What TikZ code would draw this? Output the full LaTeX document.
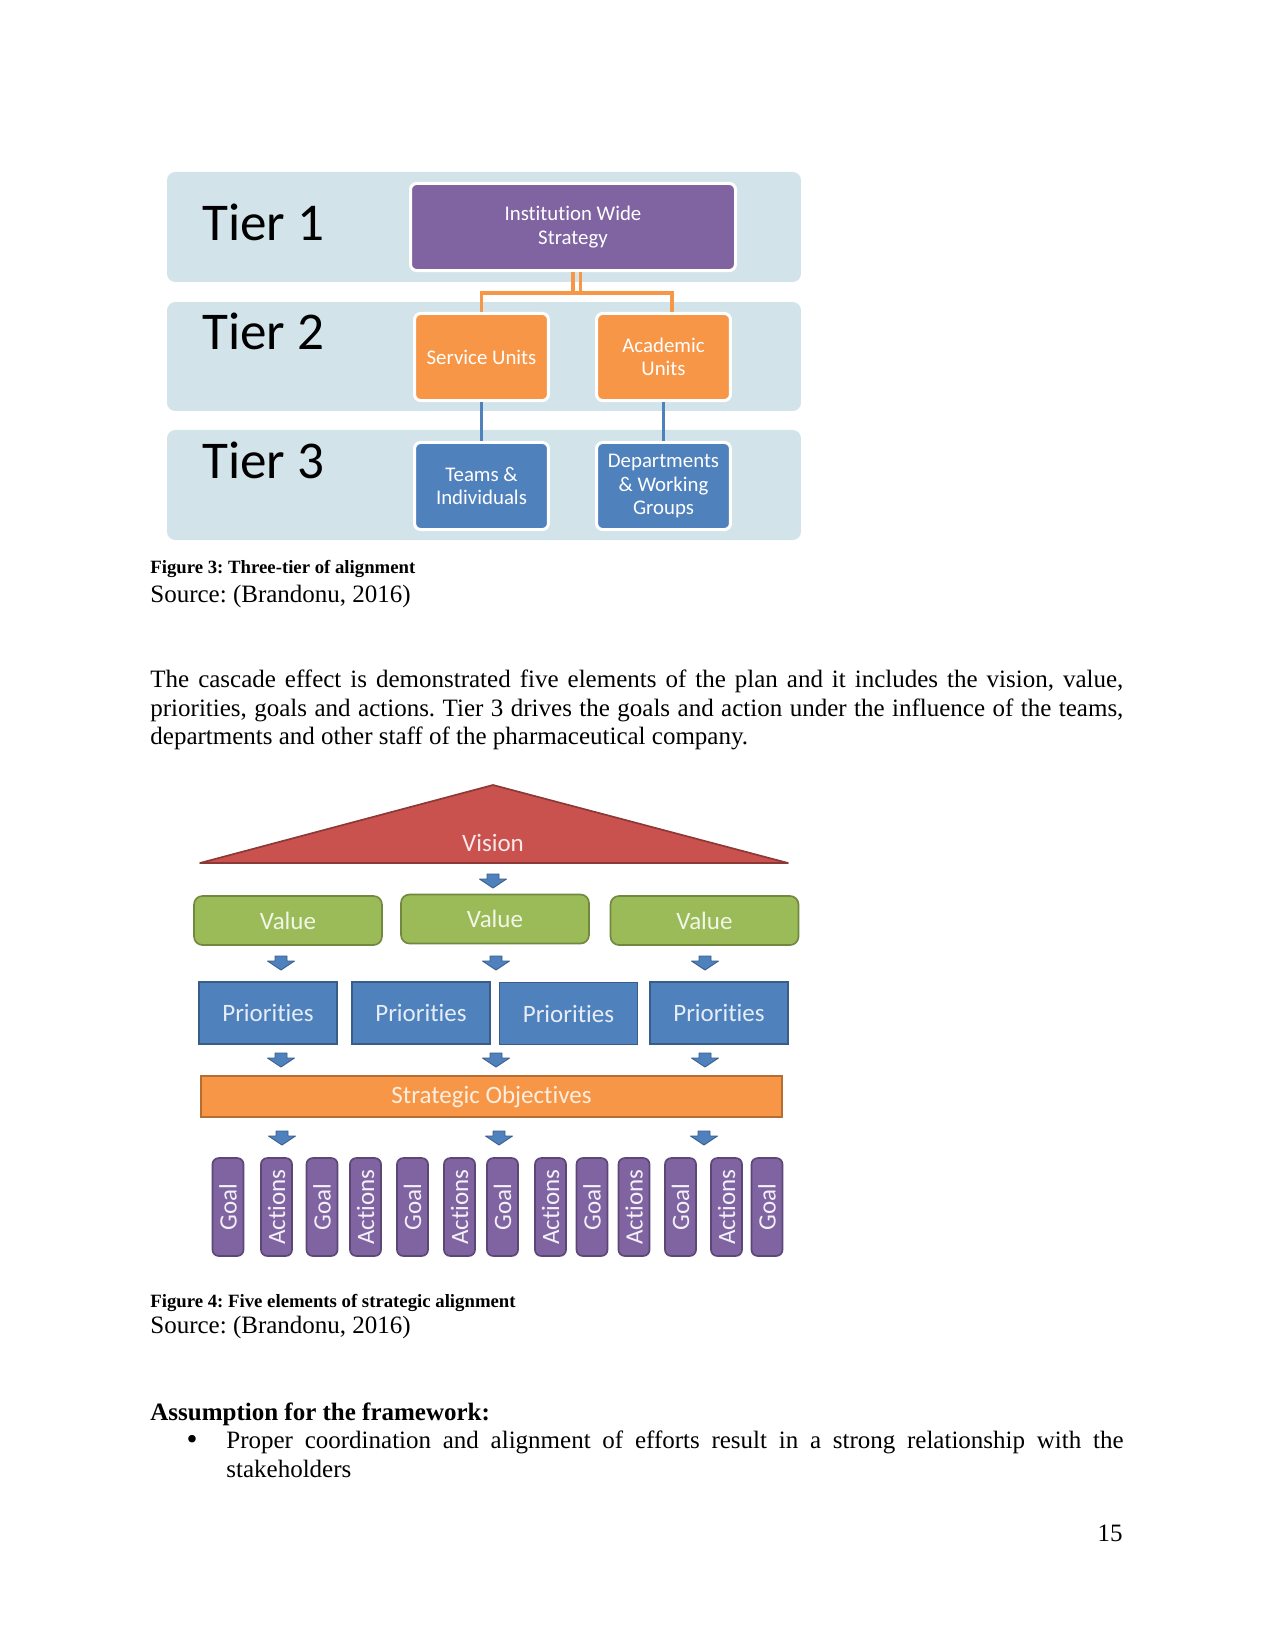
\documentclass[tikz,border=0pt]{standalone}
\usepackage{fontspec}
\setmainfont{Liberation Serif}
\newfontfamily\carlito[Ligatures={NoCommon,NoContextual,NoRequired}]{Carlito}
\usepackage{graphicx}
\frenchspacing
\definecolor{bandcol}{RGB}{210,227,234}
\definecolor{tpurple}{HTML}{8064A2}
\definecolor{torange}{HTML}{F79646}
\definecolor{tblue}{HTML}{4F81BD}
\definecolor{vred}{HTML}{C9524F}
\definecolor{vredd}{HTML}{8C3836}
\definecolor{vgreen}{HTML}{9BBB59}
\definecolor{vgreend}{HTML}{71893F}
\definecolor{pblued}{HTML}{385D8A}
\definecolor{oranged}{HTML}{B66D31}
\definecolor{purpled}{HTML}{5C4776}
\definecolor{vistext}{HTML}{F8E8E7}
\definecolor{valtext}{HTML}{F2F6E8}
\definecolor{pritext}{HTML}{E6EDF6}
\definecolor{sotext}{HTML}{FDEEE2}
\definecolor{coltext}{HTML}{F3F0F7}
\begin{document}
\begin{tikzpicture}[x=0.48pt,y=-0.48pt,
  bandbox/.style={fill=bandcol, rounded corners=4pt, inner sep=0pt, minimum width=304.3pt},
  tbox/.style={draw=white, line width=1.44pt, rounded corners=3pt, inner sep=0pt,
    minimum width=64.3pt, minimum height=41.8pt, text=white, align=center,
    font=\carlito\fontsize{10}{11.2}\selectfont},
  tierlbl/.style={font=\carlito\fontsize{25.5}{30}\selectfont, anchor=base west, inner sep=0pt},
  oline/.style={draw=torange, line width=1.5pt},
  bline/.style={draw=tblue, line width=1.8pt},
  valbox/.style={fill=vgreen, draw=vgreend, line width=0.8pt, rounded corners=4pt, inner sep=0pt,
    minimum width=90.2pt, minimum height=23.5pt, text=valtext, font=\carlito\fontsize{12}{14}\selectfont},
  pribox/.style={fill=tblue, draw=pblued, line width=0.8pt, inner sep=0pt,
    minimum width=66.2pt, minimum height=29.8pt, text=pritext, font=\carlito\fontsize{12}{14}\selectfont},
  sobox/.style={fill=torange, draw=oranged, line width=0.8pt, inner sep=0pt,
    minimum width=278.9pt, minimum height=19.7pt, text=sotext, font=\carlito\fontsize{12}{14}\selectfont},
  colbox/.style={fill=tpurple, draw=purpled, line width=0.8pt, rounded corners=3pt, inner sep=0pt,
    minimum width=14.9pt, minimum height=47pt, text=coltext, font=\carlito\fontsize{12}{14}\selectfont},
  bodytxt/.style={anchor=base west, inner sep=0pt, font=\fontsize{12}{13.8}\selectfont},
  captxt/.style={anchor=base west, inner sep=0pt, font=\bfseries\fontsize{9}{10.35}\selectfont},
  blkarrow/.pic={\draw[fill=tblue, draw=pblued, line width=0.4pt, line join=round]
    (-6,0) -- (6,0) -- (6,5) -- (13.5,5) -- (0,14) -- (-13.5,5) -- (-6,5) -- cycle;}
]
\useasboundingbox[fill=white] (0,0) rectangle (1275,1650);

% ---------- Figure 3 ----------
\node[bandbox, minimum height=52.8pt] (band1) at (484,227) {};
\node[bandbox, minimum height=52.3pt] (band2) at (484,356.5) {};
\node[bandbox, minimum height=52.8pt] (band3) at (484,485) {};

\node[tierlbl] (t1) at (202,241) {Tier 1};
\node[tierlbl] (t2) at (202,350) {Tier 2};
\node[tierlbl] (t3) at (202,478) {Tier 3};

\node[tbox, fill=tpurple, minimum width=156pt] (inst) at (573,227) {Institution Wide\\Strategy};
\node[tbox, fill=torange] (serv) at (481.5,357) {Service Units};
\node[tbox, fill=torange] (acad) at (663.5,357) {Academic\\Units};
\node[tbox, fill=tblue] (teams) at (481.5,486) {Teams \&\\Individuals};
\node[tbox, fill=tblue] (dept) at (663.5,486) {Departments\\\& Working\\Groups};

\coordinate (bus) at (576,293);
\coordinate (instR) at ([xshift=3.6pt]inst.south);
\coordinate (acadR) at ([xshift=4.1pt]acad.north);
\draw[oline] (inst.south) -- (inst.south |- bus);
\draw[oline] (instR) -- (instR |- bus);
\draw[oline] (serv.north) -- (serv.north |- bus) -- (acadR |- bus) -- (acadR);
\draw[bline] (serv) -- (teams);
\draw[bline] (acad) -- (dept);

\node[captxt] (cap3) at (150,573) {Figure 3: Three-tier of alignment};
\node[bodytxt] (src3) at (150,602) {Source: (Brandonu, 2016)};

\node[bodytxt] (p1) at (150,687) {\makebox[467pt][s]{The cascade effect is demonstrated five elements of the plan and it includes the vision, value,}};
\node[bodytxt] (p2) at (150,716) {\makebox[467pt][s]{priorities, goals and actions. Tier 3 drives the goals and action under the influence of the teams,}};
\node[bodytxt] (p3) at (150,744) {departments and other staff of the pharmaceutical company.};

% ---------- Figure 4 ----------
\draw[fill=vred, draw=vredd, line width=0.8pt, line join=round] (200,863) -- (493,785) -- (788,863) -- cycle;
\node[anchor=base, inner sep=0pt, text=vistext, font=\carlito\fontsize{12}{14}\selectfont] (vision) at (493,851) {Vision};
\pic at (493,874) {blkarrow};

\node[valbox] (val1) at (288,920.5) {Value};
\node[valbox] (val2) at (495,919) {Value};
\node[valbox] (val3) at (704.5,920.5) {Value};
\pic at (281,956) {blkarrow};
\pic at (496,956) {blkarrow};
\pic at (705,956) {blkarrow};

\node[pribox] (pri1) at (268,1013) {Priorities};
\node[pribox] (pri2) at (421,1013) {Priorities};
\node[pribox] (pri3) at (568.5,1013.5) {Priorities};
\node[pribox] (pri4) at (719,1013) {Priorities};
\pic at (281,1053) {blkarrow};
\pic at (496,1053) {blkarrow};
\pic at (705,1053) {blkarrow};

\node[sobox] (so) at (491.5,1096.5) {Strategic Objectives};
\pic at (282,1131) {blkarrow};
\pic at (499,1131) {blkarrow};
\pic at (704,1131) {blkarrow};

\foreach \cx/\lab [count=\i] in {228/Goal, 276.5/Actions, 322/Goal, 365.5/Actions, 412.5/Goal, 459.5/Actions, 502.5/Goal, 550.5/Actions, 592/Goal, 634/Actions, 680.5/Goal, 726.5/Actions, 767/Goal}
  \node[colbox] (col\i) at (\cx,1207) {\rotatebox{90}{\lab}};

\node[captxt] (cap4) at (150,1307) {Figure 4: Five elements of strategic alignment};
\node[bodytxt] (src4) at (150,1333) {Source: (Brandonu, 2016)};

\node[bodytxt, font=\bfseries\fontsize{12}{13.8}\selectfont] (assume) at (150,1420) {Assumption for the framework:};
\node[anchor=base, inner sep=0pt, font=\fontsize{15}{16}\selectfont] (bul) at (192,1449) {•};
\node[bodytxt] (b1) at (226,1448) {\makebox[430.6pt][s]{Proper coordination and alignment of efforts result in a strong relationship with the}};
\node[bodytxt] (b2) at (226,1477) {stakeholders};

\node[anchor=base east, inner sep=0pt, font=\fontsize{12}{13.8}\selectfont] (pnum) at (1123,1541) {15};
\end{tikzpicture}
\end{document}
